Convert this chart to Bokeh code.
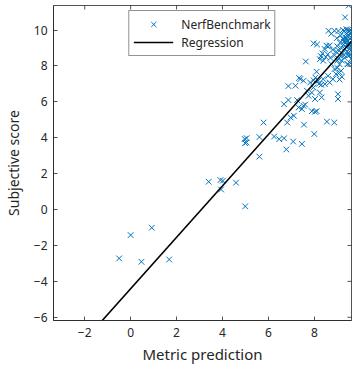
import math
from bokeh.plotting import figure
from bokeh.models import Range1d, FixedTicker, Legend, LegendItem
from bokeh.embed import file_html
from bokeh.resources import INLINE

# ---- data ----
bench_x = [-0.50, 0.00, 0.47, 0.92, 1.68,
           3.40, 3.94, 3.91, 4.02, 4.59, 4.99,
           4.97, 5.04, 4.99, 5.05,
           5.61, 5.61, 5.79, 6.25, 6.47, 6.68, 6.78, 7.08, 7.46, 7.55, 8.00, 8.55, 8.87,
           6.68, 6.82, 6.87, 6.87, 6.97, 7.11, 7.18, 7.25, 7.34, 7.39, 7.32, 7.46, 7.53, 7.60,
           7.53, 7.63, 7.68, 7.75, 7.82, 7.89, 7.96, 7.89, 8.03, 8.10, 8.03, 8.10, 8.17, 8.24,
           8.32, 8.39, 8.46, 8.60, 8.67, 8.81, 8.95, 9.03, 9.03, 9.10, 8.88, 9.10, 9.20, 8.20,
           8.30, 7.97, 8.05,
           7.97, 8.12, 8.24, 8.29, 8.39, 8.35, 8.45, 8.53, 8.60, 8.67, 8.62, 8.74, 8.88, 8.80,
           8.88, 8.95, 9.00, 9.05, 9.08, 9.12, 9.15, 9.18, 9.22, 9.25, 9.28, 9.30, 9.32, 9.34,
           9.35, 9.38, 9.40, 9.42, 9.45, 9.47, 9.48, 9.50, 9.50, 9.52, 9.54, 9.56, 9.58, 9.60,
           9.61, 9.60, 9.57, 9.45, 9.40, 9.35, 9.45, 9.55, 9.50, 9.30, 9.20, 9.10, 9.00, 8.74,
           9.17, 9.45, 9.15, 9.05, 8.98, 9.25, 9.40, 9.58, 9.60, 9.28, 9.38, 9.48, 9.52, 9.42,
           9.33, 9.55, 9.62, 8.50, 8.58, 8.70, 9.00]
bench_y = [-2.72, -1.42, -2.91, -1.01, -2.78,
           1.55, 1.12, 1.64, 1.61, 1.50, 0.18,
           3.93, 3.74, 3.70, 3.98,
           4.04, 2.95, 4.85, 4.07, 3.92, 3.97, 3.35, 3.79, 3.66, 4.73, 4.21, 4.90, 4.85,
           5.87, 4.85, 6.10, 6.88, 5.13, 5.23, 6.90, 6.10, 7.33, 7.27, 5.69, 5.60, 5.78, 5.85,
           7.18, 8.25, 6.62, 6.34, 7.08, 6.52, 6.80, 5.48, 5.45, 5.48, 6.16, 7.68, 7.18, 6.52,
           6.25, 7.27, 6.99, 7.45, 7.08, 7.27, 7.55, 6.43, 6.16, 7.64, 7.83, 7.25, 7.40, 7.00,
           6.95, 7.20, 7.35,
           9.26, 9.20, 8.38, 8.55, 8.29, 8.70, 8.95, 9.13, 9.08, 9.15, 9.96, 9.80, 9.96, 8.90,
           8.60, 8.80, 9.10, 8.40, 8.85, 9.30, 8.55, 9.00, 8.70, 9.50, 9.20, 9.95, 8.45, 10.71,
           9.60, 9.05, 9.80, 8.80, 9.40, 10.02, 8.60, 11.37, 9.25, 9.70, 8.95, 9.50, 9.85, 9.10,
           9.60, 8.40, 8.15, 8.10, 9.45, 9.30, 9.65, 9.30, 8.75, 8.60, 8.30, 8.10, 7.90, 8.11,
           7.73, 8.11, 9.70, 9.95, 9.55, 10.00, 10.05, 10.00, 9.85, 9.35, 9.55, 9.90, 9.15, 9.20,
           8.95, 8.60, 8.90, 8.50, 8.65, 8.45, 8.30]

reg_slope = 1.432
reg_intercept = -4.41
reg_x = [-3.36, 9.62]
reg_y = [reg_slope * v + reg_intercept for v in reg_x]

x_ticks = [-2, 0, 2, 4, 6, 8]
y_ticks = [-6, -4, -2, 0, 2, 4, 6, 8, 10]
x_limits = (-3.36, 9.62)
y_limits = (-6.18, 11.37)

FONT = "Noto Sans"
AX = "#262626"
BLUE = "#0072BD"

p = figure(width=356, height=369, output_backend="svg", toolbar_location=None,
           x_range=Range1d(*x_limits), y_range=Range1d(*y_limits),
           x_axis_label="Metric prediction", y_axis_label="Subjective score",
           min_border_left=46, min_border_right=5, min_border_top=5, min_border_bottom=49)
p.grid.visible = False
p.outline_line_color = AX
p.outline_line_width = 0.8
p.background_fill_color = "white"
p.border_fill_color = "white"

for ax in [p.xaxis[0], p.yaxis[0]]:
    ax.major_tick_in = 4
    ax.major_tick_out = 0
    ax.minor_tick_line_color = None
    ax.axis_line_color = AX
    ax.axis_line_width = 0.8
    ax.major_tick_line_color = AX
    ax.major_tick_line_width = 0.8
    ax.major_label_text_font = FONT
    ax.major_label_text_font_size = "12px"
    ax.major_label_text_color = AX
    ax.axis_label_text_font = FONT
    ax.axis_label_text_font_style = "normal"
    ax.axis_label_text_color = AX
p.xaxis[0].axis_label_text_font_size = "15px"
p.yaxis[0].axis_label_text_font_size = "14px"
p.xaxis[0].ticker = FixedTicker(ticks=x_ticks)
p.yaxis[0].ticker = FixedTicker(ticks=y_ticks)
p.xaxis[0].major_label_standoff = 7
p.yaxis[0].major_label_standoff = 6
p.xaxis[0].axis_label_standoff = 4
p.yaxis[0].axis_label_standoff = 8

# mirrored inward ticks on the top and right edges (half of each dash is clipped by the frame)
p.scatter(x_ticks, [y_limits[1]] * len(x_ticks), marker="dash", angle=math.pi / 2,
          size=8, line_color=AX, line_width=0.8)
p.scatter([x_limits[1]] * len(y_ticks), y_ticks, marker="dash",
          size=8, line_color=AX, line_width=0.8)

r_pts = p.scatter(bench_x, bench_y, marker="x", size=8, line_color=BLUE, line_width=1)
r_line = p.line(reg_x, reg_y, line_color="black", line_width=1.6)

legend = Legend(items=[LegendItem(label="NerfBenchmark", renderers=[r_pts]),
                       LegendItem(label="Regression", renderers=[r_line])],
                location="top", margin=5, padding=4, spacing=0,
                label_height=18, glyph_height=18, glyph_width=40, label_standoff=8,
                label_text_font=FONT, label_text_font_size="12px", label_text_color=AX,
                border_line_color=AX, border_line_width=0.8,
                background_fill_color="white", background_fill_alpha=1.0)
p.add_layout(legend, "center")

open("out.html", "w").write(file_html(p, INLINE))
